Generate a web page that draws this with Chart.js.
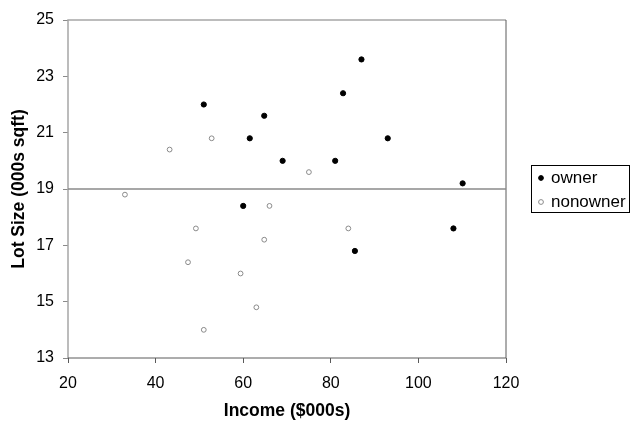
<!DOCTYPE html>
<html>
<head>
<meta charset="utf-8">
<script src="https://cdn.jsdelivr.net/npm/chart.js@4/dist/chart.umd.min.js"></script>
<style>
  html, body { margin: 0; padding: 0; background: #fff; }
  #wrap { width: 640px; height: 426px; }
</style>
</head>
<body>
<div id="wrap"><canvas id="myChart" width="640" height="426"></canvas></div>
<script>
// riding mower data: income ($000s) vs lot size (000s sqft)
const ownerIncome = [60.0, 85.5, 64.8, 61.5, 87.0, 110.1, 108.0, 82.8, 69.0, 93.0, 51.0, 81.0];
const ownerLot = [18.4, 16.8, 21.6, 20.8, 23.6, 19.2, 17.6, 22.4, 20.0, 20.8, 22.0, 20.0];
const nonownerIncome = [75.0, 52.8, 64.8, 43.2, 84.0, 49.2, 59.4, 66.0, 47.4, 33.0, 51.0, 63.0];
const nonownerLot = [19.6, 20.8, 17.2, 20.4, 17.6, 17.6, 16.0, 18.4, 16.4, 18.8, 14.0, 14.8];
const seriesLabels = ['owner', 'nonowner'];
// horizontal separating line
const cutoffX = [20, 120];
const cutoffY = [19, 19];
const xTicks = [20, 40, 60, 80, 100, 120];
const yTicks = [13, 15, 17, 19, 21, 23, 25];

const toPoints = (xs, ys) => xs.map((x, i) => ({ x: x, y: ys[i] }));

const FONT = "'Liberation Sans', Arial, sans-serif";

// frame around the plot area, lighter on top/left like the original
const frame = {
    id: 'frame',
    beforeDatasetsDraw(chart) {
        const { ctx, chartArea: a } = chart;
        ctx.save();
        ctx.lineWidth = 1.5;
        ctx.strokeStyle = '#a6a6a6';
        ctx.beginPath();
        ctx.moveTo(a.left, a.bottom);
        ctx.lineTo(a.left, a.top);
        ctx.lineTo(a.right, a.top);
        ctx.stroke();
        ctx.lineWidth = 1;
        ctx.strokeStyle = '#5a5a5a';
        ctx.beginPath();
        ctx.moveTo(a.right, a.top);
        ctx.lineTo(a.right, a.bottom);
        ctx.lineTo(a.left, a.bottom);
        ctx.stroke();
        ctx.restore();
    }
};

// boxed legend to the right of the plot
const boxLegend = {
    id: 'boxLegend',
    afterDraw(chart) {
        const { ctx, chartArea: a } = chart;
        const sets = chart.data.datasets.filter(d => d.type === 'scatter');
        const left = a.right + 25.5;
        const top = 165.5;
        const w = 98, h = 47;
        ctx.save();
        ctx.strokeStyle = '#000';
        ctx.lineWidth = 1;
        ctx.strokeRect(left, top, w, h);
        ctx.font = '17px ' + FONT;
        ctx.textBaseline = 'middle';
        ctx.fillStyle = '#000';
        sets.forEach((d, i) => {
            const cy = top + 12.5 + i * 24;
            ctx.beginPath();
            ctx.arc(left + 9.5, cy, 2.4, 0, Math.PI * 2);
            ctx.fillStyle = d.backgroundColor;
            ctx.fill();
            ctx.lineWidth = 1;
            ctx.strokeStyle = d.borderColor;
            ctx.stroke();
            ctx.fillStyle = '#000';
            ctx.fillText(d.label, left + 19.5, cy);
        });
        ctx.restore();
    }
};

const ctx = document.getElementById('myChart').getContext('2d');
window.myChart = new Chart(ctx, {
    data: {
        datasets: [
            {
                type: 'line',
                label: 'cutoff',
                data: toPoints(cutoffX, cutoffY),
                borderColor: '#8a8a8a',
                borderWidth: 1.5,
                pointRadius: 0,
                fill: false
            },
            {
                type: 'scatter',
                label: seriesLabels[0],
                data: toPoints(ownerIncome, ownerLot),
                backgroundColor: '#000',
                borderColor: '#000',
                borderWidth: 1,
                pointRadius: 2.6
            },
            {
                type: 'scatter',
                label: seriesLabels[1],
                data: toPoints(nonownerIncome, nonownerLot),
                backgroundColor: '#fff',
                borderColor: '#8a8a8a',
                borderWidth: 1,
                pointRadius: 2.4
            }
        ]
    },
    options: {
        responsive: false,
        animation: false,
        layout: { padding: { top: 20, right: 134, left: 0, bottom: 0 } },
        plugins: {
            legend: { display: false },
            tooltip: { enabled: false }
        },
        scales: {
            x: {
                type: 'linear',
                min: xTicks[0],
                max: xTicks[xTicks.length - 1],
                afterFit: s => { s.height = 68; },
                afterBuildTicks: s => { s.ticks = xTicks.map(v => ({ value: v })); },
                border: { display: false },
                grid: { drawOnChartArea: false, drawTicks: true, tickLength: 5, color: '#5a5a5a' },
                ticks: { padding: 11, color: '#000', font: { family: FONT, size: 16 } },
                title: {
                    display: true,
                    text: 'Income ($000s)',
                    color: '#000',
                    font: { family: FONT, size: 17.5, weight: 'bold' },
                    padding: { top: 0, bottom: 4 }
                }
            },
            y: {
                type: 'linear',
                min: yTicks[0],
                max: yTicks[yTicks.length - 1],
                afterFit: s => { s.width = 68; },
                afterBuildTicks: s => { s.ticks = yTicks.map(v => ({ value: v })); },
                border: { display: false },
                grid: { drawOnChartArea: false, drawTicks: true, tickLength: 5, color: '#8a8a8a' },
                ticks: { padding: 9, color: '#000', font: { family: FONT, size: 16 } },
                title: {
                    display: true,
                    text: 'Lot Size (000s sqft)',
                    color: '#000',
                    font: { family: FONT, size: 17.5, weight: 'bold' },
                    padding: { top: 9, bottom: 0 }
                }
            }
        }
    },
    plugins: [frame, boxLegend]
});
</script>
</body>
</html>
